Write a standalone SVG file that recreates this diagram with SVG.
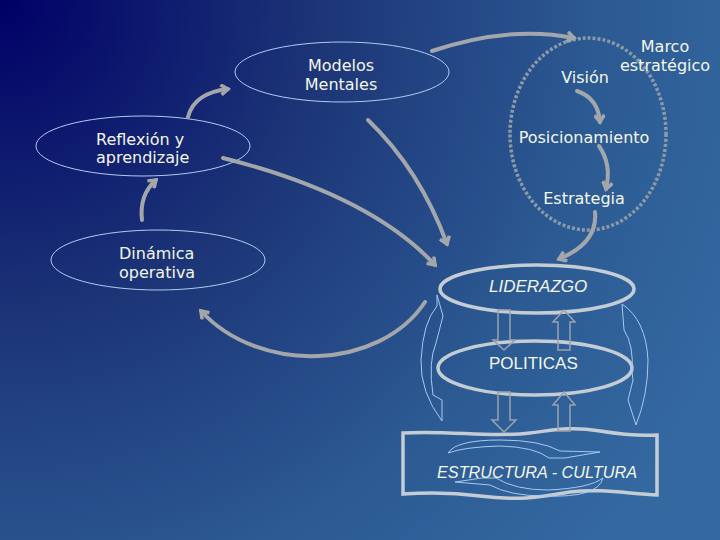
<svg xmlns="http://www.w3.org/2000/svg" width="720" height="540" viewBox="0 0 720 540">
<defs>
<radialGradient id="bg" gradientUnits="userSpaceOnUse" cx="0" cy="0" r="800">
<stop offset="0" stop-color="#000066"/>
<stop offset="0.4" stop-color="#1c3577"/>
<stop offset="0.75" stop-color="#2c5a93"/>
<stop offset="1" stop-color="#3468a0"/>
</radialGradient>
<marker id="ah" viewBox="0 0 12 12" refX="9" refY="6" markerWidth="12" markerHeight="12" markerUnits="userSpaceOnUse" orient="auto">
<path d="M2,1 L9,6 L2,11" fill="none" stroke="#a3a6aa" stroke-width="3.5" stroke-linejoin="miter"/>
</marker>
<style>
.t{font-family:"DejaVu Sans",Verdana,sans-serif;font-size:16px;fill:#f4f6e6}
.ti{font-family:"Liberation Sans",Arial,sans-serif;font-size:17px;fill:#f4f6e6}
.thin{fill:none;stroke:#b0ccf0;stroke-width:1}
.thick{fill:none;stroke:#c4ccd4;stroke-width:3.5}
.arr{fill:none;stroke:#a3a6aa;stroke-width:4;stroke-linecap:round;marker-end:url(#ah)}
.blk{fill:none;stroke:#9aa3ad;stroke-width:1.5}
.cur{fill:none;stroke:#a8c8f0;stroke-width:1}
</style>
</defs>
<rect width="720" height="540" fill="url(#bg)"/>

<g id="modelos">
<ellipse class="thin" cx="342" cy="72" rx="107" ry="30"/>
<text class="t" x="341" y="71" text-anchor="middle">Modelos</text>
<text class="t" x="341" y="90" text-anchor="middle">Mentales</text>
</g>
<g id="reflexion">
<ellipse class="thin" cx="143" cy="146" rx="107" ry="30"/>
<text class="t" x="96" y="145">Reflexión y</text>
<text class="t" x="96" y="163">aprendizaje</text>
</g>
<g id="dinamica">
<ellipse class="thin" cx="158" cy="260" rx="107" ry="30"/>
<text class="t" x="119" y="259">Dinámica</text>
<text class="t" x="119" y="278">operativa</text>
</g>
<g id="marco">
<ellipse cx="588" cy="134" rx="78" ry="96" fill="none" stroke="#8c9aa8" stroke-width="3.5" stroke-dasharray="3 2"/>
<text class="t" x="665" y="52" text-anchor="middle">Marco</text>
<text class="t" x="665" y="71" text-anchor="middle">estratégico</text>
</g>
<g id="vision"><text class="t" x="585" y="83" text-anchor="middle">Visión</text></g>
<g id="posicionamiento"><text class="t" x="584" y="143" text-anchor="middle">Posicionamiento</text></g>
<g id="estrategia"><text class="t" x="584" y="204" text-anchor="middle">Estrategia</text></g>
<g id="liderazgo">
<ellipse class="thick" cx="537" cy="289" rx="97" ry="24"/>
<text class="ti" x="489" y="292" font-style="italic">LIDERAZGO</text>
</g>
<g id="politicas">
<ellipse class="thick" cx="535" cy="368" rx="97" ry="27"/>
<text class="ti" x="489" y="369">POLITICAS</text>
</g>
<g id="estructura">
<path class="thick" d="M403,433 C450,430 490,438 530,433 C555,430 570,426 600,431 C625,435 640,436 657,435 L657,495 C630,494 600,488 570,492 C540,497 520,501 480,496 C450,492 430,492 403,494 Z"/>
<path class="cur" d="M448,453 Q456,440 500,440 Q540,440 560,451 L600,452 L565,458 L549,458 Q535,447 500,446 Q464,447 448,453 Z"/>
<path class="cur" d="M603,478 Q598,498 545,496 Q510,496 490,485 L455,482 L482,478 L496,478 Q515,490 548,490 Q590,488 603,478 Z"/>
<text class="ti" x="437" y="478" font-style="italic" textLength="200" lengthAdjust="spacingAndGlyphs">ESTRUCTURA - CULTURA</text>
</g>

<g id="connectors">
<path class="arr" d="M188,117 Q194,93 228,89"/>
<path class="arr" d="M142,220 Q139,195 156,180"/>
<path class="arr" d="M432,51 Q510,25 574,38"/>
<path class="arr" d="M368,120 Q420,170 447,244"/>
<path class="arr" d="M223,158 Q370,195 435,265"/>
<path class="arr" d="M595,212 Q598,243 559,259"/>
<path class="arr" d="M577,91 Q598,98 600,122"/>
<path class="arr" d="M599,146 Q612,165 606,189"/>
<path class="arr" d="M425,302 C380,370 260,375 201,311"/>
<path class="blk" d="M498,310 L510,310 L510,340 L515,340 L504,350 L493,340 L498,340 Z"/>
<path class="blk" d="M558,350 L570,350 L570,322 L575,322 L564,310 L553,322 L558,322 Z"/>
<path class="blk" d="M498,392 L510,392 L510,420 L516,420 L504,432 L492,420 L498,420 Z"/>
<path class="blk" d="M558,431 L570,431 L570,405 L575,405 L564,392 L553,405 L558,405 Z"/>
<path class="cur" d="M437,295 L443,316 L436,343 Q428,362 433,395 L442,400 L442,421 Q420,392 421,360 Q423,322 437,306 Z"/>
<path class="cur" d="M622,304 Q646,320 648,360 Q648,395 636,425 L628,400 L633,380 L632,372 Q634,345 624,330 Z"/>
</g>
</svg>
